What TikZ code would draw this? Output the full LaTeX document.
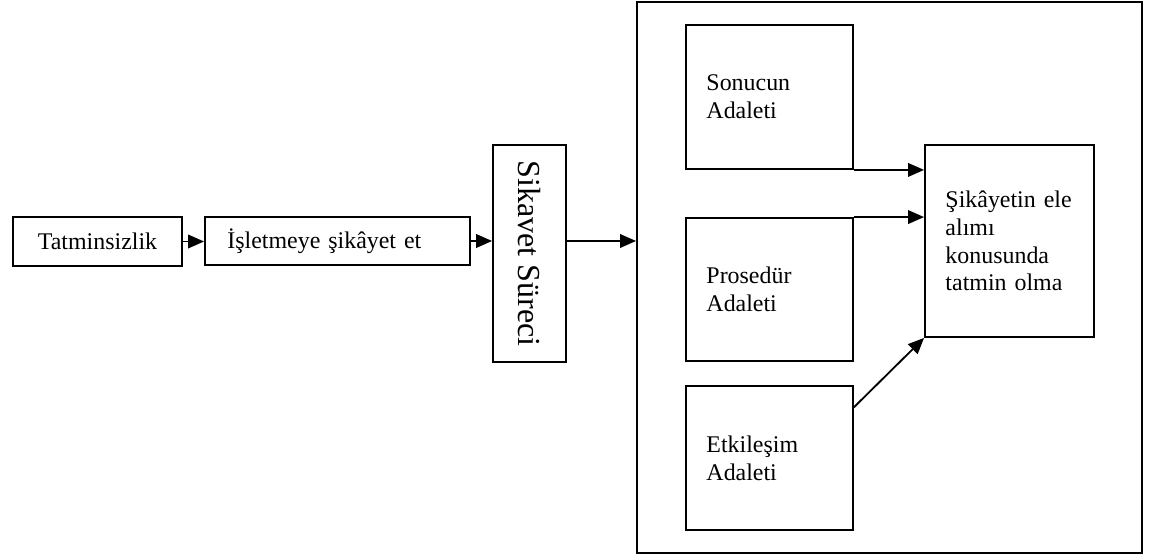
\documentclass[tikz,border=0pt]{standalone}
\usepackage{fontspec}
\usepackage{graphicx}
\setmainfont{Liberation Serif}
\usetikzlibrary{arrows.meta}

\begin{document}
\begin{tikzpicture}[x=0.025cm, y=-0.025cm,
	kutu/.style={draw, line width=1.3pt, font=\fontsize{17}{19.8}\selectfont},
	adalet/.style={kutu, minimum width=4.175cm, minimum height=3.6cm, text width=3.15cm, inner xsep=0.5cm, align=left},
	ok/.style={line width=1.3pt, -{Triangle[length=4mm, width=3.4mm]}}]
	\useasboundingbox (0,0) rectangle (1157,556);
	
	% sol taraf
	\node[kutu, minimum width=4.225cm, minimum height=1.225cm] (tatminsizlik) at (97.5,241.5) {Tatminsizlik};
	\node[kutu, minimum width=6.625cm, minimum height=1.2cm, text width=5.5cm, inner xsep=0.55cm, align=left] (sikayet) at (337.5,241) {İşletmeye şikâyet et};
	\node[kutu, minimum width=1.825cm, minimum height=5.425cm, font=\fontsize{22.8}{26}\selectfont] (surec) at (529.5,253.5) {\rotatebox{-90}{Sikavet Süreci}};
	
	% sag taraf (cerceve icinde)
	\node[draw, line width=1.3pt, minimum width=12.625cm, minimum height=13.775cm] (cerceve) at (889.5,277.5) {};
	\node[adalet] (sonuc) at (769.5,97) {Sonucun\\Adaleti};
	\node[adalet, minimum height=3.575cm] (prosedur) at (769.5,289.5) {Prosedür\\Adaleti};
	\node[adalet] (etkilesim) at (769.5,458) {Etkileşim\\Adaleti};
	\node[kutu, minimum width=4.225cm, minimum height=4.8cm, text width=3.2cm, inner xsep=0.5cm, align=left] (tatmin) at (1009.5,241) {Şikâyetin ele\\alımı\\konusunda\\tatmin olma};
	
	% oklar
	\draw[ok] (tatminsizlik.east) -- (tatminsizlik.east -| sikayet.west);
	\draw[ok] (sikayet.east) -- (sikayet.east -| surec.west);
	\draw[ok] (sikayet.east -| surec.east) -- (sikayet.east -| cerceve.west);
	\draw[ok] (sonuc.south east) -- (sonuc.south east -| tatmin.west);
	\draw[ok] (prosedur.north east) -- (prosedur.north east -| tatmin.west);
	\draw[ok] (etkilesim.31) -- (tatmin.south west);
\end{tikzpicture}
\end{document}
